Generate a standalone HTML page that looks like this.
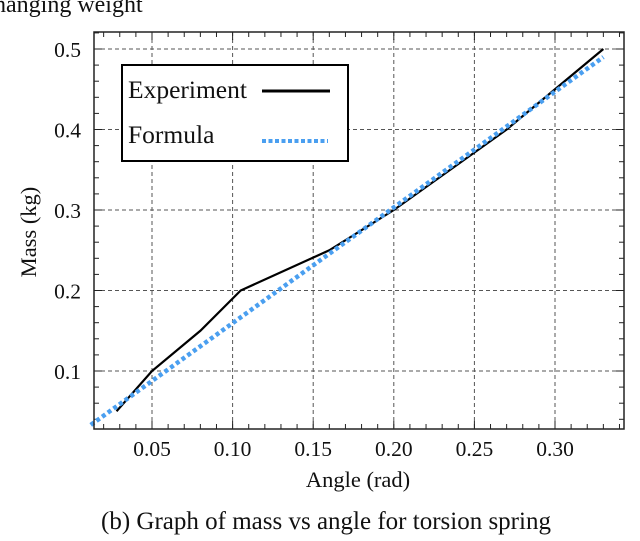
<!DOCTYPE html>
<html><head><meta charset="utf-8"><style>
body{margin:0;background:#fff;width:640px;height:536px;overflow:hidden}
svg text{font-family:"Liberation Serif",serif;fill:#111}
</style></head><body>
<svg width="640" height="536" id="c">
<text x="-6" y="12" font-size="24">hanging weight</text>
<g id="grid"></g>
<g id="ticks"></g>
<g id="series"></g>
<rect x="94" y="32" width="530" height="397" fill="none" stroke="#222" stroke-width="1.5"/>
<g>
<rect x="122" y="65" width="226" height="96" fill="#fff" stroke="#000" stroke-width="2"/>
<text x="128" y="98" font-size="25.5">Experiment</text>
<line x1="262" y1="91" x2="330" y2="91" stroke="#000" stroke-width="3"/>
<text x="128" y="143" font-size="25.5">Formula</text>
<line x1="262" y1="141" x2="328" y2="141" stroke="#4a9ff0" stroke-width="4" stroke-dasharray="4,2.5"/>
</g>
<text x="358" y="487" font-size="22.5" text-anchor="middle">Angle (rad)</text>
<text transform="translate(36,232) rotate(-90)" font-size="22.5" text-anchor="middle">Mass (kg)</text>
<text x="326" y="529" font-size="25" text-anchor="middle">(b) Graph of mass vs angle for torsion spring</text>
</svg>
<script>
const xTicks=[0.05,0.10,0.15,0.20,0.25,0.30];
const xTickLabels=["0.05","0.10","0.15","0.20","0.25","0.30"];
const yTicks=[0.1,0.2,0.3,0.4,0.5];
const yTickLabels=["0.1","0.2","0.3","0.4","0.5"];
const expX=[0.028,0.05,0.08,0.105,0.16,0.2,0.27,0.3,0.33];
const expY=[0.05,0.1,0.15,0.2,0.25,0.3,0.4,0.45,0.5];
const formX=[0.012,0.33];
const formY=[0.033,0.49];
const L=94,R=624,T=32,B=429;
const X0=0.05,XP=152,XS=80.6/0.05;
const Y0=0.1,YP=371,YS=80.5/0.1;
const sx=v=>XP+(v-X0)*XS, sy=v=>YP-(v-Y0)*YS;
const NS="http://www.w3.org/2000/svg";
function mk(t,a,p){const e=document.createElementNS(NS,t);for(const k in a)e.setAttribute(k,a[k]);p.appendChild(e);return e;}
const grid=document.getElementById('grid'),ticks=document.getElementById('ticks'),ser=document.getElementById('series');
xTicks.forEach((v,i)=>{const x=sx(v);
 const g=mk('line',{x1:x,x2:x,y1:T,y2:B,stroke:'#555','stroke-dasharray':'4,3'},grid);
 
 
 const t=mk('text',{x:x,y:456,'font-size':21.5,'text-anchor':'middle'},ticks);t.textContent=xTickLabels[i];
 
 
});
yTicks.forEach((v,i)=>{const y=sy(v);
 const g=mk('line',{x1:L,x2:R,y1:y,y2:y,stroke:'#555','stroke-dasharray':'4,3'},grid);
 
 
 const t=mk('text',{x:81,y:y+8,'font-size':21.5,'text-anchor':'end'},ticks);t.textContent=yTickLabels[i];
 
 
});
for(let k=2;k<=34;k++){const v=k/100,x=sx(v);if(x<L||x>R)continue;const big=k%5==0;const h=big?8:5;
 mk('line',{x1:x,x2:x,y1:B,y2:B-h,stroke:'#222'},ticks);mk('line',{x1:x,x2:x,y1:T,y2:T+h,stroke:'#222'},ticks);}
for(let k=2;k<=26;k++){const v=k/50,y=sy(v);if(y<T||y>B)continue;const big=k%5==0;const h=big?8:5;
 mk('line',{x1:L,x2:L+h,y1:y,y2:y,stroke:'#222'},ticks);mk('line',{x1:R,x2:R-h,y1:y,y2:y,stroke:'#222'},ticks);}
const ep=expX.map((v,i)=>sx(v)+','+sy(expY[i])).join(' ');
const fp=formX.map((v,i)=>sx(v)+','+sy(formY[i])).join(' ');
const e=mk('polyline',{points:ep,fill:'none',stroke:'#000','stroke-width':2.2},ser);


const f=mk('polyline',{points:fp,fill:'none',stroke:'#4a9ff0','stroke-width':4.5,'stroke-dasharray':'4,3'},ser);


</script>
</body></html>
